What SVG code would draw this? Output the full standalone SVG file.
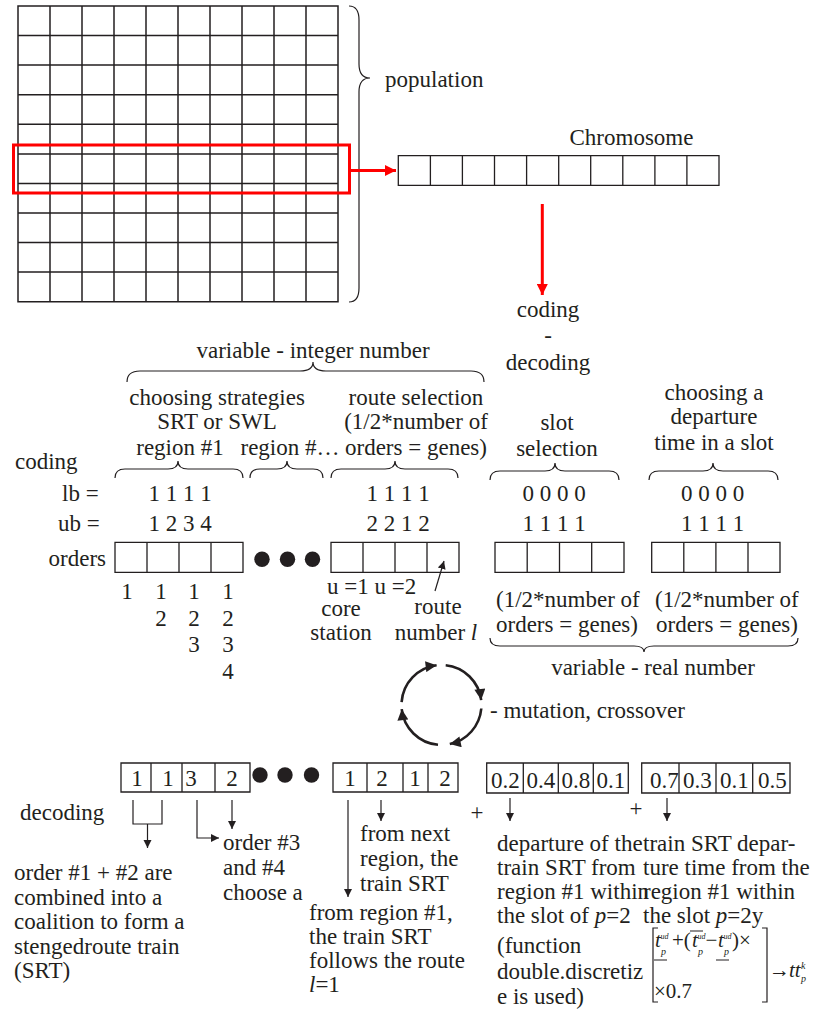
<svg xmlns="http://www.w3.org/2000/svg" width="817" height="1014" viewBox="0 0 817 1014" font-family="Liberation Serif">
<style>
text{font-family:"Liberation Serif",serif;font-size:23px;fill:#231f20}
.c{text-anchor:middle}
.i{font-style:italic}
.fm{font-size:21px}
.sup{font-size:8px;font-style:italic}
.sub{font-size:10px;font-style:italic}
.g{fill:none;stroke:#231f20;stroke-width:1.5}
.b{fill:none;stroke:#231f20;stroke-width:1.3}
.br{fill:none;stroke:#231f20;stroke-width:1.2}
.ar{fill:none;stroke:#231f20;stroke-width:1.2;marker-end:url(#ah)}
.cy{fill:none;stroke:#231f20;stroke-width:2.6;marker-end:url(#ch)}
.red{fill:none;stroke:#ff0000;stroke-width:3}
.dot{fill:#231f20}
</style>
<defs>
<marker id="ah" viewBox="0 0 10 10" refX="10" refY="5" markerWidth="8" markerHeight="10" markerUnits="userSpaceOnUse" orient="auto"><path d="M0,0 L10,5 L0,10 z" fill="#231f20"/></marker>
<marker id="ch" viewBox="0 0 10 10" refX="10" refY="5" markerWidth="12" markerHeight="11" markerUnits="userSpaceOnUse" orient="auto"><path d="M0,0 L10,5 L0,10 z" fill="#231f20"/></marker>
<marker id="rh" viewBox="0 0 10 10" refX="10" refY="5" markerWidth="12" markerHeight="11" markerUnits="userSpaceOnUse" orient="auto"><path d="M0,0 L10,5 L0,10 z" fill="#ff0000"/></marker>
</defs>

<g id="population">
<path class="g" d="M18,6 H338 V301.7 H18 Z M50,6 V301.7 M82,6 V301.7 M114,6 V301.7 M146,6 V301.7 M178,6 V301.7 M210,6 V301.7 M242,6 V301.7 M274,6 V301.7 M306,6 V301.7 M18,35.6 H338 M18,65.1 H338 M18,94.7 H338 M18,124.3 H338 M18,153.9 H338 M18,183.4 H338 M18,213 H338 M18,242.6 H338 M18,272.1 H338"/>
<rect class="red" x="13.5" y="145" width="336" height="48"/>
<path class="br" d="M349,6 Q359,6 359,20 V64 Q359,78 370,78 Q359,78 359,92 V288 Q359,302 349,302"/>
<text x="385" y="87">population</text>
</g>

<g id="chromosome">
<path class="b" d="M398.3,155.7 H719 V185.3 H398.3 Z M430.4,155.7 V185.3 M462.4,155.7 V185.3 M494.5,155.7 V185.3 M526.6,155.7 V185.3 M558.7,155.7 V185.3 M590.7,155.7 V185.3 M622.8,155.7 V185.3 M654.9,155.7 V185.3 M686.9,155.7 V185.3"/>
<text class="c" x="631.5" y="145">Chromosome</text>
</g>

<g id="codingdecoding">
<text class="c" x="548" y="317">coding</text>
<text class="c" x="548" y="343">-</text>
<text class="c" x="548" y="370">decoding</text>
</g>

<g id="connectors">
<path class="red" d="M350,170.5 H396" style="marker-end:url(#rh)"/>
<path class="red" d="M542.3,204 V295" style="marker-end:url(#rh)"/>
<path class="ar" d="M435,591 L444,561"/>
<path class="br" d="M133,800 V824 H162 V800"/>
<path class="ar" d="M147.5,824 V848"/>
<path class="ar" d="M197,800 V838 H219"/>
<path class="ar" d="M232,800 V829"/>
<path class="ar" d="M348,800 V897"/>
<path class="ar" d="M381,800 V821"/>
<path class="ar" d="M510,798 V821"/>
<path class="ar" d="M667,798 V821"/>
</g>

<g id="integer">
<text class="c" x="313" y="358">variable - integer number</text>
<path class="br" d="M127,382 Q127,371 140,371 H300 Q313,371 313,362 Q313,371 326,371 H471 Q484,371 484,382"/>
<text class="c" x="217" y="405">choosing strategies</text>
<text class="c" x="217" y="429">SRT or SWL</text>
<text class="c" x="180" y="455">region #1</text>
<text class="c" x="290" y="455">region #…</text>
<text class="c" x="416" y="405">route selection</text>
<text class="c" x="416" y="429">(1/2*number of</text>
<text class="c" x="416" y="455">orders = genes)</text>
<text class="c" x="557" y="430">slot</text>
<text class="c" x="557" y="456">selection</text>
<text class="c" x="714" y="400">choosing a</text>
<text class="c" x="714" y="424">departure</text>
<text class="c" x="714" y="450">time in a slot</text>
<path class="br" d="M115,478 Q115,469 125,469 H168 Q178,469 178,461 Q178,469 188,469 H233 Q243,469 243,478"/>
<path class="br" d="M250,478 Q250,469 260,469 H277 Q287,469 287,461 Q287,469 297,469 H313 Q323,469 323,478"/>
<path class="br" d="M331,478 Q331,469 341,469 H385 Q395,469 395,461 Q395,469 405,469 H448 Q458,469 458,478"/>
<path class="br" d="M490,480 Q490,471 500,471 H545 Q555,471 555,463 Q555,471 565,471 H609 Q619,471 619,480"/>
<path class="br" d="M649,480 Q649,471 659,471 H703 Q713,471 713,463 Q713,471 723,471 H768 Q778,471 778,480"/>
</g>

<g id="bounds">
<text x="15" y="469">coding</text>
<text x="62" y="501">lb =</text>
<text x="58" y="531">ub =</text>
<text class="c" x="180" y="501">1 1 1 1</text>
<text class="c" x="180" y="531">1 2 3 4</text>
<text class="c" x="398" y="501">1 1 1 1</text>
<text class="c" x="398" y="531">2 2 1 2</text>
<text class="c" x="554" y="501">0 0 0 0</text>
<text class="c" x="554" y="531">1 1 1 1</text>
<text class="c" x="712.5" y="501">0 0 0 0</text>
<text class="c" x="712.5" y="531">1 1 1 1</text>
</g>

<g id="orders">
<text x="106" y="566" text-anchor="end">orders</text>
<path class="b" d="M115,542.3 H243 V572.3 H115 Z M147,542.3 V572.3 M179,542.3 V572.3 M211,542.3 V572.3"/>
<circle class="dot" cx="262" cy="559.3" r="7.7"/>
<circle class="dot" cx="287.5" cy="559.3" r="7.7"/>
<circle class="dot" cx="312.5" cy="559.3" r="7.7"/>
<path class="b" d="M331,542.3 H459 V572.3 H331 Z M363,542.3 V572.3 M395,542.3 V572.3 M427,542.3 V572.3"/>
<path class="b" d="M495,542.3 H624 V572.3 H495 Z M527.2,542.3 V572.3 M559.5,542.3 V572.3 M591.7,542.3 V572.3"/>
<path class="b" d="M651.7,542.3 H780 V572.3 H651.7 Z M683.8,542.3 V572.3 M715.9,542.3 V572.3 M748,542.3 V572.3"/>
<text class="c" x="127" y="599">1</text>
<text class="c" x="161" y="599">1</text>
<text class="c" x="194" y="599">1</text>
<text class="c" x="228" y="599">1</text>
<text class="c" x="161" y="626">2</text>
<text class="c" x="194" y="626">2</text>
<text class="c" x="228" y="626">2</text>
<text class="c" x="194" y="652">3</text>
<text class="c" x="228" y="652">3</text>
<text class="c" x="228" y="679">4</text>
<text x="327" y="594">u =1 u =2</text>
<text class="c" x="341" y="616">core</text>
<text class="c" x="341" y="640">station</text>
<text class="c" x="438" y="614">route</text>
<text class="c" x="436" y="640">number <tspan class="i">l</tspan></text>
<text x="496" y="607">(1/2*number of</text>
<text x="496" y="632">orders = genes)</text>
<text x="655" y="607">(1/2*number of</text>
<text x="656" y="632">orders = genes)</text>
<path class="br" d="M490,638 Q490,646 500,646 H634 Q644,646 644,652 Q644,646 654,646 H788 Q798,646 798,638"/>
<text class="c" x="653" y="675">variable - real number</text>
</g>

<g id="cycle">
<path class="cy" d="M401.6,702.2 A40,40 0 0 1 436.6,665.3"/>
<path class="cy" d="M445.7,665.2 A40,40 0 0 1 481.2,700.1"/>
<path class="cy" d="M481.3,708.5 A40,40 0 0 1 449.8,744.1"/>
<path class="cy" d="M438,744.8 A40,40 0 0 1 401.7,709.2"/>
<text x="490" y="718">- mutation, crossover</text>
</g>

<g id="decoded">
<path class="b" d="M121,763 H250 V792 H121 Z M151,763 V792 M182,763 V792 M215,763 V792"/>
<text class="c" x="137" y="786">1</text>
<text class="c" x="168" y="786">1</text>
<text class="c" x="191" y="786">3</text>
<text class="c" x="232" y="786">2</text>
<circle class="dot" cx="260" cy="775" r="7.7"/>
<circle class="dot" cx="285" cy="775" r="7.7"/>
<circle class="dot" cx="311.5" cy="775" r="7.7"/>
<path class="b" d="M333,763 H458 V792 H333 Z M367,763 V792 M403,763 V792 M428,763 V792"/>
<text class="c" x="350" y="786">1</text>
<text class="c" x="382" y="786">2</text>
<text class="c" x="415" y="786">1</text>
<text class="c" x="445" y="786">2</text>
<path class="b" d="M486.7,763 H628.3 V793 H486.7 Z M523.3,763 V793 M558.3,763 V793 M593.3,763 V793"/>
<text x="491" y="788">0.2</text>
<text x="526.5" y="788">0.4</text>
<text x="561.5" y="788">0.8</text>
<text x="596.5" y="788">0.1</text>
<path class="b" d="M641.7,763 H790 V793 H641.7 Z M679,763 V793 M716,763 V793 M752.7,763 V793"/>
<text x="650" y="788">0.7</text>
<text x="683" y="788">0.3</text>
<text x="720" y="788">0.1</text>
<text x="758" y="788">0.5</text>
<text class="c" x="477" y="820">+</text>
<text class="c" x="636" y="816">+</text>
</g>

<g id="labels">
<text x="20" y="820">decoding</text>
<text x="14" y="880">order #1 + #2 are</text>
<text x="14" y="905">combined into a</text>
<text x="14" y="929">coalition to form a</text>
<text x="14" y="954">stengedroute train</text>
<text x="14" y="978">(SRT)</text>
<text x="223" y="850">order #3</text>
<text x="223" y="875">and #4</text>
<text x="223" y="900">choose a</text>
<text x="360" y="841">from next</text>
<text x="360" y="866">region, the</text>
<text x="360" y="891">train SRT</text>
<text x="309" y="920">from region #1,</text>
<text x="309" y="944">the train SRT</text>
<text x="309" y="968">follows the route</text>
<text x="309" y="992"><tspan class="i">l</tspan>=1</text>
<text x="497" y="851">departure of the</text>
<text x="497" y="875">train SRT from</text>
<text x="497" y="899">region #1 within</text>
<text x="497" y="923">the slot of <tspan class="i">p</tspan>=2</text>
<text x="497" y="953">(function</text>
<text x="497" y="979">double.discretiz</text>
<text x="497" y="1004">e is used)</text>
<text x="643" y="851">train SRT depar-</text>
<text x="643" y="875">ture time from the</text>
<text x="643" y="899">region #1 within</text>
<text x="643" y="923">the slot <tspan class="i">p</tspan>=2y</text>
</g>

<g id="formula">
<path class="br" d="M658,928 H653 V1002 H658 M762,928 H767 V1002 H762"/>
<path class="br" d="M654,960 H667 M690,931 H703 M716,960 H729"/>
<text class="fm i" x="655" y="947">t</text>
<text class="sup" x="660.5" y="939">ud</text>
<text class="sub" x="661" y="955">p</text>
<text class="fm" x="672" y="947">+(</text>
<text class="fm i" x="692" y="947">t</text>
<text class="sup" x="697.5" y="939">ud</text>
<text class="sub" x="698" y="955">p</text>
<text class="fm" x="705.5" y="947">−</text>
<text class="fm i" x="718" y="947">t</text>
<text class="sup" x="723.5" y="939">ud</text>
<text class="sub" x="724" y="955">p</text>
<text class="fm" x="732" y="947">)×</text>
<text class="fm" x="654" y="998">×0.7</text>
<text class="fm" x="769" y="977">→</text>
<text class="fm i" x="789" y="977">tt</text>
<text class="sub" x="801" y="969">k</text>
<text class="sub" x="801" y="982">p</text>
</g>
</svg>
